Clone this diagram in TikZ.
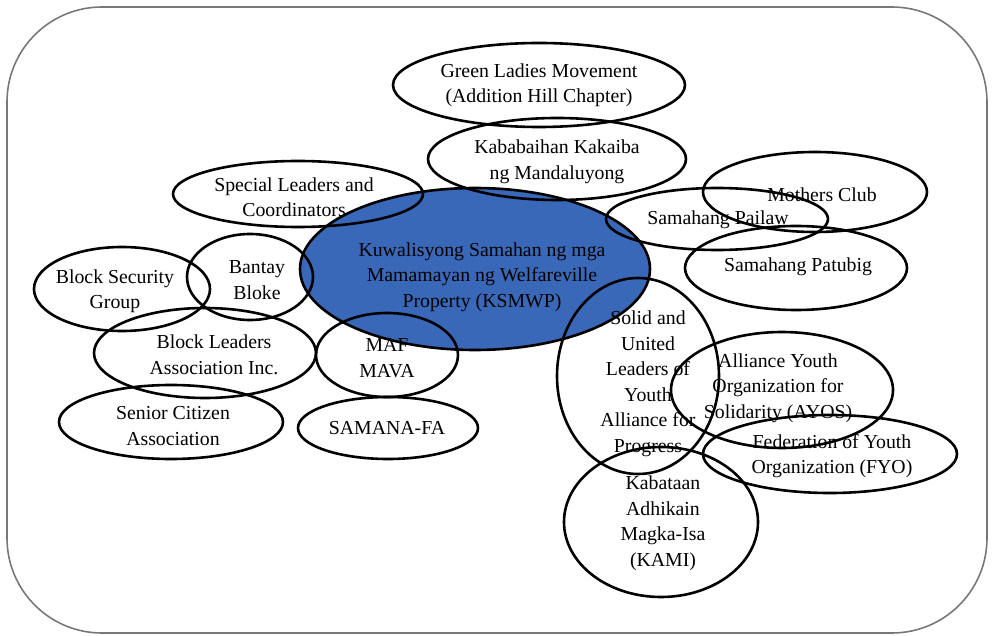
\documentclass[tikz,border=0pt]{standalone}
\usepackage{fontspec}
\setmainfont{Liberation Serif}
\usetikzlibrary{shapes.geometric}
\definecolor{ksblue}{RGB}{58,104,184}
\definecolor{framegray}{RGB}{120,120,120}
\tikzset{
  org/.style={draw=black, line width=2.6pt, ellipse, inner sep=0pt},
  txt/.style={align=center, inner sep=0pt, font=\fontsize{19.8}{25.5}\selectfont},
  framebox/.style={draw=framegray, line width=1.6pt, rounded corners=95pt, rectangle, inner sep=0pt}
}
\begin{document}
\begin{tikzpicture}[x=1pt,y=-1pt]
\useasboundingbox (0,0) rectangle (993,636);
\node[framebox, minimum width=980pt, minimum height=626pt] (frame) at (497,320) {};

% central organisation
\node[org, fill=ksblue, minimum width=350pt, minimum height=162pt] (main) at (475,269) {};

% member organisations
\node[org, minimum width=292pt, minimum height=84pt]  (gl)    at (539,85)  {};
\node[org, minimum width=258pt, minimum height=82pt]  (kk)    at (557,159) {};
\node[org, minimum width=250pt, minimum height=66pt]  (sl)    at (298,194) {};
\node[org, minimum width=176pt, minimum height=84pt]  (bsg)   at (122,289) {};
\node[org, minimum width=126pt, minimum height=86pt]  (bb)    at (250,277) {};
\node[org, minimum width=222pt, minimum height=90pt]  (bla)   at (205,353) {};
\node[org, minimum width=142pt, minimum height=84pt]  (maf)   at (387,355) {};
\node[org, minimum width=224pt, minimum height=74pt]  (sc)    at (171,422) {};
\node[org, minimum width=180pt, minimum height=62pt]  (sam)   at (388,428) {};
\node[org, minimum width=222pt, minimum height=62pt]  (sp)    at (717,219) {};
\node[org, minimum width=224pt, minimum height=80pt]  (mc)    at (815,192) {};
\node[org, minimum width=222pt, minimum height=84pt]  (pat)   at (796,268) {};
\node[org, minimum width=162pt, minimum height=196pt] (solid) at (638,376) {};
\node[org, minimum width=222pt, minimum height=116pt] (ayos)  at (782,390) {};
\node[org, minimum width=254pt, minimum height=78pt]  (fyo)   at (830,454) {};
\node[org, minimum width=194pt, minimum height=150pt] (kami)  at (661,522) {};

% texts
\node[txt] (main-t)  at (482,277) {Kuwalisyong Samahan ng mga\\Mamamayan ng Welfareville\\Property (KSMWP)};
\node[txt] (gl-t)    at (539,85)  {Green Ladies Movement\\(Addition Hill Chapter)};
\node[txt] (kk-t)    at (557,162) {Kababaihan Kakaiba\\ng Mandaluyong};
\node[txt] (sl-t)    at (294,197) {Special Leaders and\\Coordinators};
\node[txt] (bsg-t)   at (115,291) {Block Security\\Group};
\node[txt] (bb-t)    at (257,280) {Bantay\\Bloke};
\node[txt] (bla-t)   at (214,355) {Block Leaders\\Association Inc.};
\node[txt] (maf-t)   at (387,358) {MAF\\MAVA};
\node[txt] (sc-t)    at (173,426) {Senior Citizen\\Association};
\node[txt] (sam-t)   at (387,428) {SAMANA-FA};
\node[txt] (sp-t)    at (718,220) {Samahang Pailaw};
\node[txt] (mc-t)    at (822,195) {Mothers Club};
\node[txt] (pat-t)   at (798,267) {Samahang Patubig};
\node[txt] (solid-t) at (648,384) {Solid and\\United\\Leaders of\\Youth\\Alliance for\\Progress};
\node[txt] (ayos-t)  at (778,388) {Alliance Youth\\Organization for\\Solidarity (AYOS)};
\node[txt] (fyo-t)   at (832,456) {Federation of Youth\\Organization (FYO)};
\node[txt] (kami-t)  at (663,523) {Kabataan\\Adhikain\\Magka-Isa\\(KAMI)};
\end{tikzpicture}
\end{document}
